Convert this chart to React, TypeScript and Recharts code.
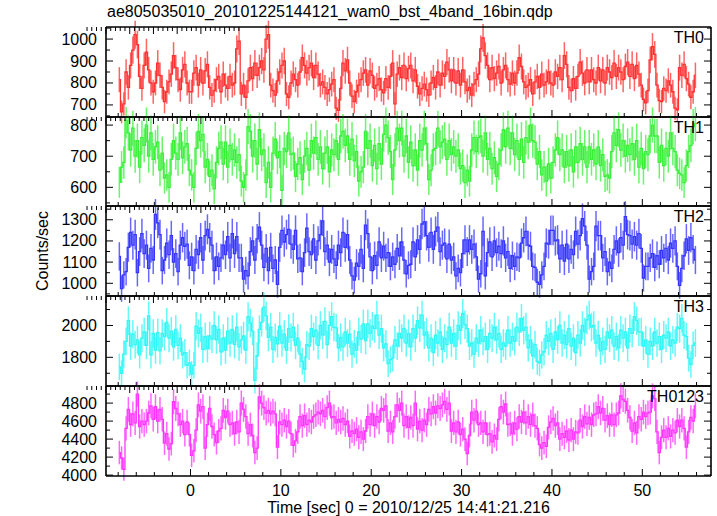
import { ComposedChart, Line, ErrorBar, XAxis, YAxis } from "recharts";

const FONT = "'Liberation Sans', Arial, Helvetica, sans-serif";
const TITLE = "ae805035010_20101225144121_wam0_bst_4band_16bin.qdp";
const X_TITLE = "Time [sec] 0 = 2010/12/25 14:41:21.216";
const Y_TITLE = "Counts/sec";

// light curve bins: 0.25 s wide, first bin starts at -8 s
const T_START = -8;
const BIN = 0.25;

const th0 = [
  815, 668, 705, 850, 780, 880, 950, 1020, 975, 830, 775, 880, 940, 860, 800, 760,
  800, 890, 835, 780, 715, 760, 805, 840, 925, 870, 815, 770, 860, 885, 800, 760,
  760, 845, 870, 790, 860, 800, 855, 885, 780, 745, 765, 815, 830, 760, 840, 790,
  775, 830, 790, 800, 955, 990, 750, 790, 735, 810, 870, 820, 890, 835, 870, 900,
  860, 1000, 1020, 790, 765, 745, 810, 850, 880, 900, 750, 735, 800, 840, 815, 790,
  850, 915, 880, 845, 870, 890, 825, 880, 840, 790, 805, 780, 750, 770, 795, 815,
  685, 675, 775, 890, 855, 905, 800, 740, 715, 760, 790, 815, 845, 860, 790, 855,
  835, 775, 790, 820, 770, 755, 820, 780, 830, 890, 705, 840, 870, 825, 880, 820,
  865, 880, 810, 860, 785, 750, 775, 795, 770, 745, 800, 825, 780, 850, 790, 845,
  830, 895, 860, 810, 860, 800, 855, 790, 860, 805, 765, 780, 745, 795, 815, 840,
  955, 1005, 925, 880, 815, 870, 820, 845, 875, 800, 860, 880, 815, 795, 845, 800,
  845, 915, 875, 805, 780, 790, 815, 750, 805, 830, 780, 840, 790, 805, 850, 800,
  790, 850, 830, 870, 815, 925, 885, 780, 765, 820, 775, 830, 895, 845, 800, 860,
  805, 860, 815, 800, 870, 810, 860, 800, 870, 850, 825, 890, 830, 870, 850, 815,
  875, 895, 830, 885, 820, 880, 840, 790, 725, 710, 765, 905, 965, 930, 790, 720,
  715, 775, 765, 810, 790, 760, 685, 678, 870, 835, 885, 820, 795, 735, 760, 835,
];

const th1 = [
  616, 665, 680, 815, 775, 720, 790, 700, 750, 665, 760, 735, 800, 700, 775, 690,
  730, 745, 655, 710, 630, 640, 600, 690, 750, 710, 690, 775, 695, 730, 740, 655,
  640, 600, 725, 780, 750, 770, 665, 690, 635, 655, 595, 680, 725, 745, 675, 745,
  665, 735, 690, 720, 680, 705, 620, 600, 640, 795, 780, 700, 750, 675, 785, 705,
  720, 615, 680, 600, 710, 755, 695, 715, 590, 725, 715, 775, 705, 710, 635, 675,
  695, 625, 700, 725, 655, 750, 710, 760, 690, 730, 660, 710, 730, 650, 720, 705,
  750, 690, 765, 780, 735, 765, 690, 755, 685, 715, 620, 650, 665, 780, 725, 750,
  670, 735, 660, 740, 675, 770, 800, 760, 715, 625, 720, 790, 750, 790, 700, 765,
  680, 745, 670, 720, 655, 750, 720, 790, 740, 625, 655, 720, 725, 790, 730, 745,
  755, 690, 750, 705, 730, 700, 720, 660, 670, 615, 655, 620, 720, 760, 715, 760,
  765, 700, 775, 690, 725, 660, 695, 635, 675, 720, 785, 730, 790, 725, 775, 705,
  750, 690, 755, 680, 760, 745, 800, 750, 745, 675, 715, 640, 665, 620, 675, 630,
  680, 720, 760, 705, 720, 665, 715, 670, 720, 650, 730, 680, 740, 690, 730, 665,
  730, 690, 720, 675, 730, 670, 705, 635, 640, 630, 715, 775, 735, 785, 720, 750,
  700, 735, 705, 740, 690, 750, 665, 725, 660, 715, 705, 765, 800, 765, 765, 680,
  735, 670, 725, 700, 775, 725, 715, 655, 645, 640, 615, 670, 715, 735, 795, 805,
];

const th2 = [
  1127, 975, 1040, 1055, 1170, 1240, 1180, 1230, 1050, 1150, 1235, 1140, 1180, 1070, 1165, 1110,
  1325, 1285, 1230, 1060, 1110, 1190, 1135, 1225, 1100, 1140, 1055, 1180, 1215, 1175, 1185, 1085,
  1125, 1060, 1160, 1135, 1215, 1110, 1225, 1255, 1215, 1180, 1060, 1125, 1080, 1120, 1180, 1135,
  1220, 1120, 1235, 1140, 1220, 1120, 1120, 1020, 1060, 1035, 1150, 1200, 1110, 1210, 1265, 1180,
  1075, 1165, 1060, 1170, 1070, 1110, 995, 1170, 1250, 1195, 1230, 1255, 1185, 1160, 1250, 1115,
  1120, 1055, 1145, 1260, 1150, 1135, 1210, 1110, 1200, 1230, 1295, 1150, 1180, 1100, 1160, 1115,
  1085, 1180, 1145, 1240, 1170, 1230, 1110, 1035, 1015, 1095, 1080, 1160, 1070, 1275, 1235, 1125,
  1060, 1130, 1085, 1195, 1120, 1175, 1120, 1145, 1080, 1125, 1090, 1165, 1130, 1195, 1110, 1045,
  1085, 1090, 1195, 1125, 1205, 1160, 1280, 1290, 1225, 1170, 1240, 1160, 1245, 1265, 1150, 1180,
  1190, 1115, 1185, 1110, 1125, 1035, 1070, 1050, 1140, 1205, 1150, 1205, 1160, 1185, 1125, 1020,
  1045, 1245, 1035, 1145, 1195, 1125, 1200, 1145, 1175, 1140, 1200, 1120, 1150, 1070, 1130, 1080,
  1125, 1120, 1190, 1215, 1245, 1180, 1175, 1080, 1075, 1005, 995, 1040, 1080, 1190, 1185, 1250,
  1250, 1200, 1205, 1115, 1180, 1105, 1185, 1115, 1160, 1135, 1245, 1185, 1225, 1305, 1270, 1180,
  1020, 1055, 1080, 1270, 1225, 1225, 1120, 1150, 1055, 1100, 1070, 1160, 1200, 1145, 1215, 1180,
  1315, 1230, 1225, 1185, 1220, 1180, 1235, 1165, 1025, 1080, 1080, 1120, 1140, 1075, 1130, 1090,
  1155, 1120, 1165, 1110, 1190, 1165, 1200, 1080, 990, 1070, 1130, 1210, 1155, 1215, 1160, 1110,
];

const th3 = [
  1740, 1700, 1820, 1900, 2030, 1870, 1945, 1880, 1910, 1815, 1920, 1960, 1875, 2060, 1815, 1950,
  1845, 1955, 1840, 1950, 1930, 2020, 1920, 1965, 1865, 1975, 1875, 1920, 1815, 1830, 1750, 1765,
  1695, 1750, 1995, 1950, 1985, 1850, 1930, 1855, 1935, 1915, 2000, 1910, 1975, 1835, 1920, 1845,
  1965, 1890, 1975, 1880, 1990, 1865, 1910, 1935, 1845, 2055, 2015, 1965, 1655, 1810, 1975, 2020,
  2115, 2060, 1925, 1990, 1850, 1925, 1885, 1995, 1890, 1945, 1845, 1980, 1925, 1990, 1875, 1920,
  1820, 1775, 1725, 1880, 1870, 1980, 1930, 1970, 1875, 2000, 1940, 2025, 1880, 2000, 2055, 1990,
  1985, 1860, 1925, 1865, 1960, 1890, 1945, 1820, 1885, 1845, 1960, 1915, 2010, 1905, 2010, 1950,
  1995, 1980, 2065, 1940, 1980, 1860, 1885, 1760, 1785, 1795, 1910, 1870, 1950, 1920, 1980, 1890,
  1950, 1865, 1980, 1920, 2030, 1985, 2065, 1940, 1960, 1860, 1920, 1830, 1940, 1890, 1960, 1850,
  1920, 1880, 1990, 1890, 1950, 1870, 2000, 1970, 2075, 2005, 1980, 1870, 1890, 1820, 1920, 1890,
  1970, 1900, 1930, 1850, 1950, 1920, 1990, 1910, 1950, 1850, 1890, 1870, 1970, 1890, 1930, 1900,
  1990, 1960, 2045, 1970, 1990, 1860, 1910, 1810, 1880, 1775, 1765, 1815, 1835, 1940, 1900, 1950,
  1850, 1960, 1910, 2000, 1890, 1940, 1880, 1980, 1870, 1920, 1830, 1940, 1890, 2000, 1960, 2035,
  2065, 1990, 2000, 1890, 1940, 1840, 1900, 1850, 1960, 1920, 1970, 1870, 1930, 1860, 1970, 1920,
  1960, 1860, 1980, 1950, 2055, 2030, 1960, 1960, 1870, 1910, 1820, 1900, 1870, 1960, 1890, 1930,
  1850, 1940, 1920, 1960, 1870, 1910, 1890, 1990, 1980, 2045, 1940, 1930, 1795, 1755, 1875, 1890,
];

const th0123 = [
  4250, 4190, 4065, 4520, 4730, 4560, 4680, 4580, 4900, 4540, 4600, 4560, 4600, 4690, 4770, 4620,
  4760, 4600, 4730, 4620, 4355, 4460, 4290, 4350, 4815, 4740, 4680, 4560, 4600, 4450, 4590, 4450,
  4220, 4270, 4500, 4780, 4710, 4760, 4300, 4560, 4740, 4540, 4450, 4360, 4490, 4520, 4720, 4640,
  4710, 4560, 4580, 4460, 4590, 4480, 4800, 4730, 4650, 4460, 4560, 4440, 4250, 4300, 4870, 4800,
  4750, 4690, 4720, 4680, 4710, 4680, 4310, 4590, 4560, 4610, 4540, 4600, 4460, 4330, 4380, 4480,
  4650, 4550, 4660, 4560, 4610, 4590, 4650, 4670, 4700, 4680, 4720, 4650, 4750, 4800, 4640, 4650,
  4580, 4620, 4590, 4630, 4560, 4600, 4430, 4490, 4460, 4510, 4420, 4480, 4400, 4490, 4650, 4560,
  4680, 4550, 4650, 4590, 4740, 4720, 4770, 4490, 4580, 4480, 4650, 4780, 4720, 4800, 4550, 4650,
  4530, 4640, 4550, 4800, 4510, 4600, 4500, 4610, 4560, 4730, 4680, 4760, 4690, 4770, 4740, 4780,
  4820, 4730, 4800, 4490, 4580, 4480, 4590, 4450, 4510, 4400, 4240, 4440, 4700, 4610, 4710, 4560,
  4580, 4480, 4580, 4450, 4460, 4370, 4440, 4400, 4620, 4760, 4700, 4790, 4560, 4570, 4460, 4580,
  4510, 4650, 4590, 4700, 4580, 4650, 4560, 4670, 4550, 4520, 4340, 4300, 4360, 4320, 4530, 4590,
  4630, 4550, 4580, 4400, 4460, 4420, 4490, 4390, 4500, 4400, 4480, 4470, 4610, 4540, 4650, 4570,
  4640, 4560, 4670, 4680, 4760, 4690, 4740, 4610, 4660, 4560, 4670, 4560, 4670, 4690, 4880, 4840,
  4820, 4720, 4640, 4490, 4580, 4470, 4650, 4620, 4700, 4650, 4690, 4700, 4880, 4850, 4480, 4250,
  4420, 4500, 4420, 4520, 4430, 4500, 4470, 4610, 4540, 4610, 4520, 4310, 4480, 4640, 4600, 4770,
];

const X_DOMAIN = [-9.35, 57.6];
const X_MAJOR = [0, 10, 20, 30, 40, 50];
const X_TICKS = [
  -8, -6, -4, -2, 0, 2, 4, 6, 8, 10, 12, 14, 16, 18, 20, 22, 24, 26, 28, 30, 32,
  34, 36, 38, 40, 42, 44, 46, 48, 50, 52, 54, 56,
];

const panels = [
  { name: "TH0", values: th0, color: "#ff3030", domain: [645, 1055], major: [700, 800, 900, 1000], minor: [650, 750, 850, 950, 1050], top: 27, height: 90 },
  { name: "TH1", values: th1, color: "#38f038", domain: [540, 826], major: [600, 700, 800], minor: [550, 650, 750], top: 117, height: 89 },
  { name: "TH2", values: th2, color: "#3535ff", domain: [940, 1365], major: [1000, 1100, 1200, 1300], minor: [950, 1050, 1150, 1250, 1350], top: 206, height: 90 },
  { name: "TH3", values: th3, color: "#30f6f6", domain: [1620, 2185], major: [1800, 2000], minor: [1700, 1900, 2100], top: 296, height: 90 },
  { name: "TH0123", values: th0123, color: "#ff35ff", domain: [3990, 4990], major: [4000, 4200, 4400, 4600, 4800], minor: [4100, 4300, 4500, 4700, 4900], top: 386, height: 90 },
];

const LEFT = 106;
const RIGHT = 711;
const W = 717;
const PAD = 10;

const xTick = (side: "top" | "bottom", labels: boolean) => (props: any) => {
  const { x, y, payload } = props;
  const v = payload.value;
  const major = X_MAJOR.includes(v);
  const len = major ? 7 : 4;
  const dir = side === "bottom" ? -1 : 1;
  return (
    <g>
      <line x1={x} x2={x} y1={y} y2={y + dir * len} stroke="#000" strokeWidth={1} />
      {labels && major && (
        <text x={x} y={y + 20} textAnchor="middle" fontFamily={FONT} fontSize={16} fill="#000">
          {v}
        </text>
      )}
    </g>
  );
};

const yTick = (side: "left" | "right", majors: number[]) => (props: any) => {
  const { x, y, payload } = props;
  const v = payload.value;
  const major = majors.includes(v);
  const len = major ? 7 : 4;
  const dir = side === "left" ? 1 : -1;
  return (
    <g>
      <line x1={x} x2={x + dir * len} y1={y} y2={y} stroke="#000" strokeWidth={1} />
      {side === "left" && major && (
        <text x={x - 9} y={y} textAnchor="end" dominantBaseline="central" fontFamily={FONT} fontSize={16} fill="#000">
          {v}
        </text>
      )}
    </g>
  );
};

function Panel({ p, last }: { p: (typeof panels)[number]; last: boolean }) {
  const rows = p.values.map((v, i) => ({
    t: T_START + BIN * (i + 0.5),
    v,
    err: 2 * Math.sqrt(v), // poisson error for a 0.25 s bin
  }));
  const ticks = [...p.major, ...p.minor].sort((a, b) => a - b);
  const bottom = last ? 40 : PAD;
  const axisLine = { stroke: "#000", strokeWidth: 1.6 };
  return (
    <div style={{ position: "absolute", left: 0, top: p.top - PAD }}>
      <ComposedChart
        width={W}
        height={p.height + PAD + bottom}
        data={rows}
        margin={{ top: PAD - 1, bottom: bottom - 1, left: LEFT - 1, right: W - RIGHT - 1 }}
      >
        <XAxis
          xAxisId="b"
          type="number"
          dataKey="t"
          domain={X_DOMAIN}
          allowDataOverflow
          ticks={X_TICKS}
          interval={0}
          height={1}
          tickSize={0}
          tickMargin={0}
          tickLine={false}
          axisLine={axisLine}
          tick={xTick("bottom", last)}
        />
        <XAxis
          xAxisId="t"
          orientation="top"
          type="number"
          domain={X_DOMAIN}
          allowDataOverflow
          ticks={X_TICKS}
          interval={0}
          height={1}
          tickSize={0}
          tickMargin={0}
          tickLine={false}
          axisLine={axisLine}
          tick={xTick("top", false)}
        />
        <YAxis
          yAxisId="l"
          type="number"
          domain={p.domain}
          allowDataOverflow
          ticks={ticks}
          interval={0}
          width={1}
          tickSize={0}
          tickMargin={0}
          tickLine={false}
          axisLine={axisLine}
          tick={yTick("left", p.major)}
        />
        <YAxis
          yAxisId="r"
          orientation="right"
          type="number"
          domain={p.domain}
          allowDataOverflow
          ticks={ticks}
          interval={0}
          width={1}
          tickSize={0}
          tickMargin={0}
          tickLine={false}
          axisLine={axisLine}
          tick={yTick("right", p.major)}
        />
        <Line
          xAxisId="b"
          yAxisId="l"
          type="step"
          dataKey="v"
          stroke={p.color}
          strokeWidth={1.3}
          dot={false}
          activeDot={false}
          isAnimationActive={false}
        >
          <ErrorBar
            dataKey="err"
            direction="y"
            width={0}
            stroke={p.color}
            strokeOpacity={0.75}
            strokeWidth={1.5}
            isAnimationActive={false}
          />
        </Line>
      </ComposedChart>
    </div>
  );
}

export default function App() {
  return (
    <div style={{ position: "absolute", left: 0, top: 0, width: W, height: 516, background: "#fff", overflow: "hidden" }}>
      {panels.map((p, i) => (
        <Panel key={p.name} p={p} last={i === panels.length - 1} />
      ))}
      <svg width={W} height={516} style={{ position: "absolute", left: 0, top: 0, pointerEvents: "none" }}>
        <text x={107} y={17} fontFamily={FONT} fontSize={16} fill="#000">
          {TITLE}
        </text>
        {panels.map((p) => (
          <text key={p.name} x={704} y={p.top + 16} textAnchor="end" fontFamily={FONT} fontSize={16} fill="#000">
            {p.name}
          </text>
        ))}
        <text
          x={42}
          y={251}
          transform="rotate(-90 42 251)"
          textAnchor="middle"
          dominantBaseline="central"
          fontFamily={FONT}
          fontSize={16}
          fill="#000"
        >
          {Y_TITLE}
        </text>
        <text x={(LEFT + RIGHT) / 2} y={513} textAnchor="middle" fontFamily={FONT} fontSize={16} fill="#000">
          {X_TITLE}
        </text>
      </svg>
    </div>
  );
}
